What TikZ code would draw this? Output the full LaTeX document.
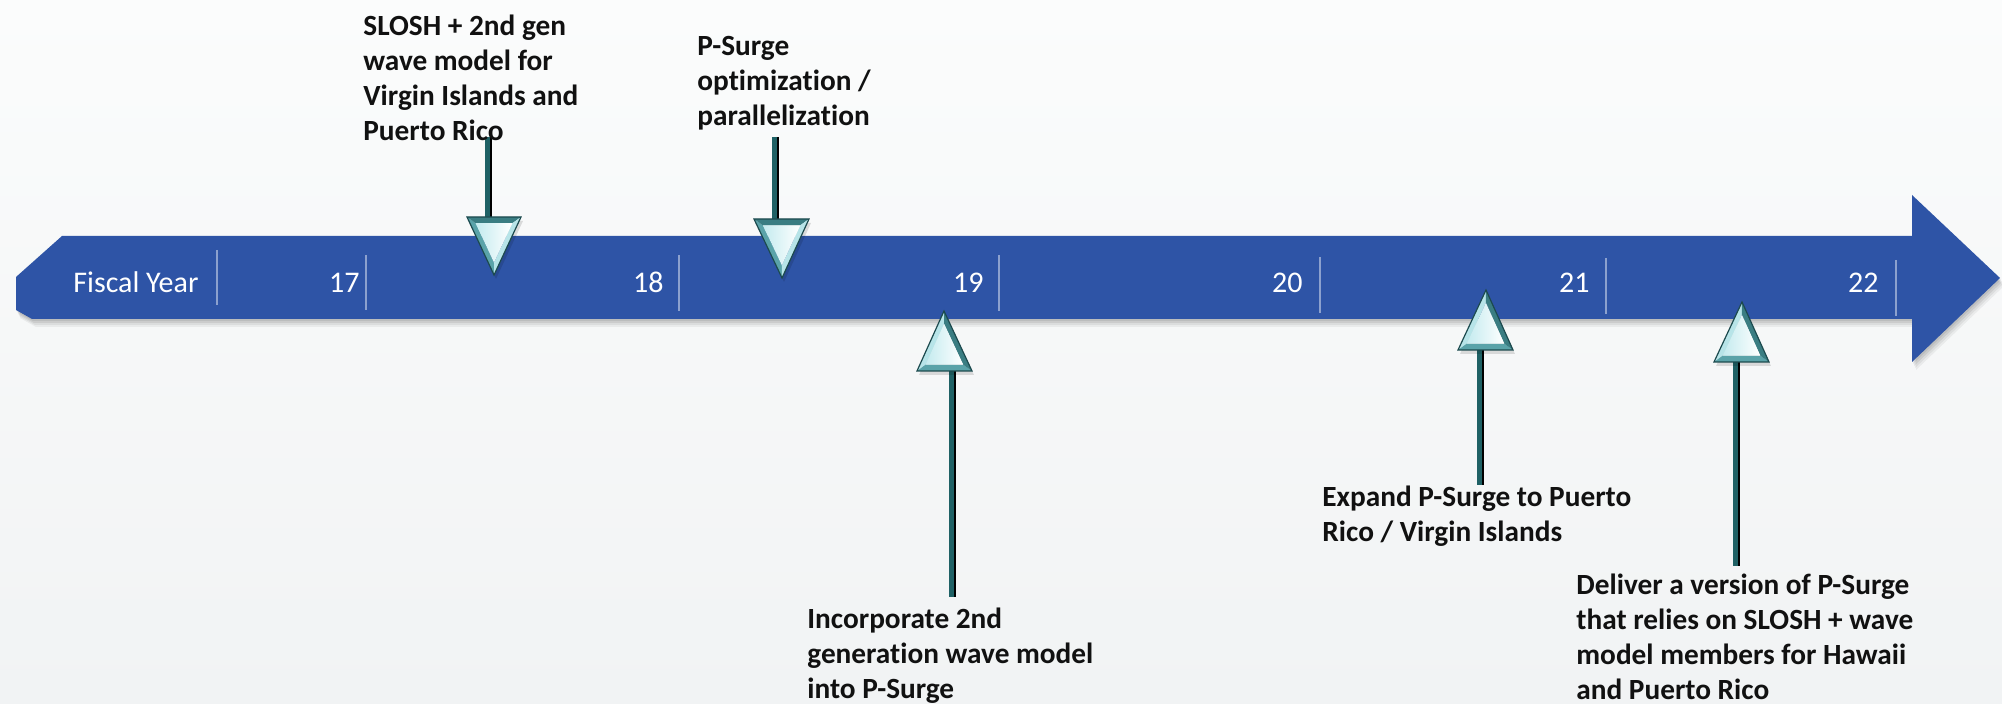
\documentclass[tikz,border=0pt]{standalone}
\usepackage{fontspec}
\setmainfont{Carlito}[Ligatures=NoCommon]
\usetikzlibrary{calc}
\definecolor{bandblue}{HTML}{2E54A6}
\definecolor{bgtop}{HTML}{FBFCFC}
\definecolor{bgbot}{HTML}{F1F3F4}
\definecolor{tdark}{HTML}{1C4A4E}
\definecolor{tmid}{HTML}{5AA3A9}
\definecolor{tdeep}{HTML}{3A7D82}
\definecolor{tlight}{HTML}{B7E4E8}
\definecolor{tpale}{HTML}{C4EBEF}
\definecolor{stemc}{HTML}{1F6165}
\definecolor{labeltext}{HTML}{111111}
\newcommand{\bevtri}[6]{%
  \coordinate (bvM) at ($(#2)!0.5!(#3)$);
  \coordinate (bvG) at ($(bvM)!0.3333!(#1)$);
  \coordinate (bvA) at ($(#1)!0.32!(bvG)$);
  \coordinate (bvB) at ($(#2)!0.32!(bvG)$);
  \coordinate (bvC) at ($(#3)!0.32!(bvG)$);
  \fill[black, opacity=0.12] ([shift={(2,4)}]#1) -- ([shift={(2,4)}]#2) -- ([shift={(2,4)}]#3) -- cycle;
  \fill[#4] (#1) -- (#2) -- (bvB) -- (bvA) -- cycle;
  \fill[#5] (#2) -- (#3) -- (bvC) -- (bvB) -- cycle;
  \fill[#6] (#3) -- (#1) -- (bvA) -- (bvC) -- cycle;
  \shade[left color=tpale, right color=white] (bvA) -- (bvB) -- (bvC) -- cycle;
  \draw[tdark, line width=0.6pt, line join=miter] (#1) -- (#2) -- (#3) -- cycle;
}
\begin{document}
\begin{tikzpicture}[x=0.5pt, y=-0.5pt,
  lbl/.style={anchor=north west, inner sep=0pt, align=left, text=labeltext,
    font=\fontsize{14.65pt}{17.5pt}\selectfont\bfseries},
  yr/.style={anchor=base east, inner sep=0pt, text=white,
    font=\fontsize{15pt}{18pt}\selectfont},
  divl/.style={draw=white, draw opacity=0.45, line width=0.6pt},
  stem/.style={draw=stemc, line width=2.5pt}]
\useasboundingbox (0,0) rectangle (2002,704);
\shade[top color=bgtop, bottom color=bgbot] (0,0) rectangle (2002,704);

% band shadow
\foreach \s/\o in {2/0.07,4/0.07,6/0.06,8/0.05} {
  \fill[black, opacity=\o, shift={(\s/2,\s)}]
    (62,236) -- (1912,236) -- (1912,195) -- (2000,278) -- (1912,362) -- (1912,319)
    -- (32,319) -- (16,310) -- (16,277) -- cycle;
}
% band
\fill[bandblue]
  (62,236) -- (1912,236) -- (1912,195) -- (2000,278) -- (1912,362) -- (1912,319)
  -- (32,319) -- (16,310) -- (16,277) -- cycle;

% dividers
\coordinate (d0a) at (217,250); \coordinate (d0b) at (217,305);
\coordinate (d1a) at (366,255); \coordinate (d1b) at (366,310);
\coordinate (d2a) at (679,255); \coordinate (d2b) at (679,311);
\coordinate (d3a) at (999,255); \coordinate (d3b) at (999,311);
\coordinate (d4a) at (1320,257); \coordinate (d4b) at (1320,313);
\coordinate (d5a) at (1606,258); \coordinate (d5b) at (1606,314);
\coordinate (d6a) at (1896,260); \coordinate (d6b) at (1896,316);
\foreach \i in {0,...,6} { \draw[divl] (d\i a) -- (d\i b); }

% year labels
\node[yr, anchor=base west] (fy) at (73,293) {Fiscal Year};
\node[yr] (y17) at (360,293) {17};
\node[yr] (y18) at (664,293) {18};
\node[yr] (y19) at (984,293) {19};
\node[yr] (y20) at (1303,293) {20};
\node[yr] (y21) at (1590,293) {21};
\node[yr] (y22) at (1879,293) {22};

% marker coordinates
\coordinate (m1t) at (494,275); \coordinate (m1a) at (467,217); \coordinate (m1b) at (521,217);
\coordinate (m1s) at (487,137); \coordinate (m1e) at (487,217);
\coordinate (m2t) at (782,278); \coordinate (m2a) at (754,219); \coordinate (m2b) at (809,219);
\coordinate (m2s) at (774,137); \coordinate (m2e) at (774,219);
\coordinate (m3t) at (944,311); \coordinate (m3a) at (917,371); \coordinate (m3b) at (972,371);
\coordinate (m3s) at (951,597); \coordinate (m3e) at (951,371);
\coordinate (m4t) at (1486,290); \coordinate (m4a) at (1458,350); \coordinate (m4b) at (1513,350);
\coordinate (m4s) at (1479,485); \coordinate (m4e) at (1479,350);
\coordinate (m5t) at (1742,302); \coordinate (m5a) at (1714,362); \coordinate (m5b) at (1769,362);
\coordinate (m5s) at (1735,566); \coordinate (m5e) at (1735,362);

% stems
\foreach \i in {1,...,5} {
  \draw[stem] (m\i s) -- (m\i e);
  \draw[black, line width=0.6pt] ([xshift=2]m\i s) -- ([xshift=2]m\i e);
}

% triangles
\bevtri{m1t}{m1a}{m1b}{tmid}{tdeep}{tlight}
\bevtri{m2t}{m2a}{m2b}{tmid}{tdeep}{tlight}
\bevtri{m3t}{m3a}{m3b}{tlight}{tmid}{tdeep}
\bevtri{m4t}{m4a}{m4b}{tlight}{tmid}{tdeep}
\bevtri{m5t}{m5a}{m5b}{tlight}{tmid}{tdeep}

% labels
\node[lbl] (l1) at (363,11) {\rule{0pt}{12pt}SLOSH + 2nd gen\\wave model for\\Virgin Islands and\\Puerto Rico};
\node[lbl] (l2) at (697,31) {\rule{0pt}{12pt}P-Surge\\optimization /\\parallelization};
\node[lbl] (l3) at (807,604) {\rule{0pt}{12pt}Incorporate 2nd\\generation wave model\\into P-Surge};
\node[lbl] (l4) at (1322,482) {\rule{0pt}{12pt}Expand P-Surge to Puerto\\Rico / Virgin Islands};
\node[lbl] (l5) at (1576,570) {\rule{0pt}{12pt}Deliver a version of P-Surge\\that relies on SLOSH + wave\\model members for Hawaii\\and Puerto Rico};
\end{tikzpicture}
\end{document}
